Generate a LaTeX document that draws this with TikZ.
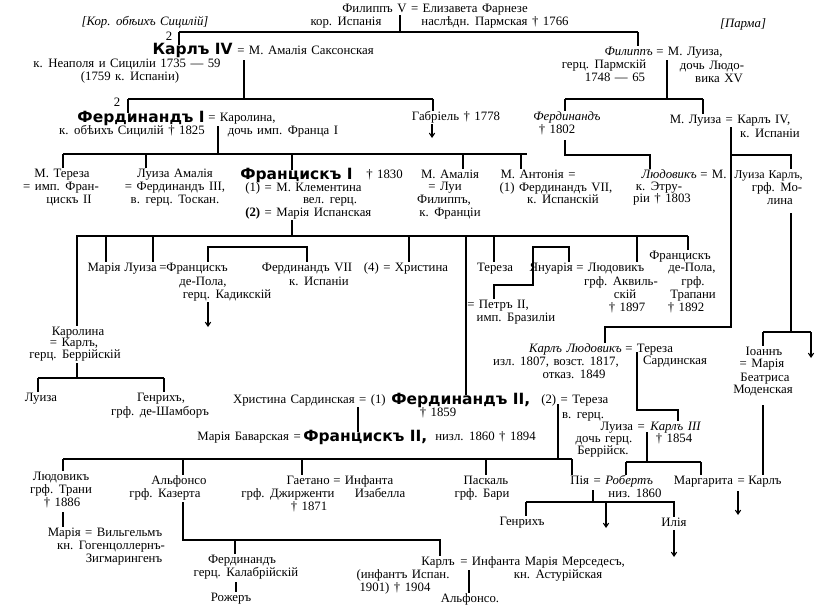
\documentclass[tikz,border=0pt]{standalone}
\usepackage{fontspec}
\setmainfont{Liberation Serif}[WordSpace=1.4]
\newfontfamily\grot{DejaVu Sans}
\usetikzlibrary{arrows.meta}
\tikzset{
  nm/.style={inner sep=0pt, text height=7pt, text depth=2pt, font=\fontsize{9.6}{10}\selectfont},
  sm/.style={nm, font=\fontsize{9}{10}\selectfont},
  it/.style={nm, font=\fontsize{9.6}{10}\selectfont\itshape},
  bf/.style={nm, font=\fontsize{11.6}{12}\selectfont\grot\bfseries},
  ln/.style={line width=0.8pt},
  dn/.style={ln, -{Straight Barb[length=3pt,width=4pt]}},
}
\begin{document}
\begin{tikzpicture}[x=0.75pt,y=-0.75pt]
\useasboundingbox[fill=white] (0,0) rectangle (821,615);
% generation of Philipp V
\node[nm] (phil5) at (435,9) {Филиппъ V = Елизавета Фарнезе};
\node[nm] (kor) at (346,22) {кор. Испанія};
\node[nm] (nasl) at (495,22) {наслѣдн. Пармская † 1766};
\node[it] (sic) at (145,22) {[Кор. обѣихъ Сицилій]};
\node[it] (parma) at (743,24) {[Парма]};
\node[nm] (two1) at (169,37) {2};
\node[bf, anchor=east] (karl4) at (233,51) {Карлъ IV};
\node[nm, anchor=west] (karl4w) at (237,51) {= М. Амалія Саксонская};
\node[nm] (karl4a) at (127,64) {к. Неаполя и Сициліи 1735 — 59};
\node[nm] (karl4b) at (130,77) {(1759 к. Испаніи)};
\node[it, anchor=east] (filp) at (653,52) {Филиппъ};
\node[nm, anchor=west] (filpw) at (656,52) {= М. Луиза,};
\node[nm] (filpa) at (604,65) {герц. Пармскій};
\node[nm] (filpb) at (615,78) {1748 — 65};
\node[nm] (filpwa) at (712,66) {дочь Людо-};
\node[nm] (filpwb) at (719,79) {вика XV};
% Ferdinand I, Gabriel, Parma
\node[nm] (two2) at (117,103) {2};
\node[bf, anchor=east] (fer1) at (205,119) {Фердинандъ I};
\node[nm, anchor=west] (fer1w) at (208,118) {= Каролина,};
\node[nm] (fer1a) at (132,131) {к. обѣихъ Сицилій † 1825};
\node[nm] (fer1wa) at (283,131) {дочь имп. Франца I};
\node[nm] (gab) at (456,117) {Габріель † 1778};
\node[it] (ferp) at (567,117) {Фердинандъ};
\node[nm] (ferpa) at (557,130) {† 1802};
\node[nm] (mlu) at (730,120) {М. Луиза = Карлъ IV,};
\node[nm] (mlua) at (770,134) {к. Испаніи};
% children of Ferdinand I
\node[nm] (mter) at (62,174) {М. Тереза};
\node[nm] (mtera) at (61,187) {= имп. Фран-};
\node[nm] (mterb) at (69,200) {цискъ II};
\node[nm] (lam) at (175,174) {Луиза Амалія};
\node[nm] (lama) at (175,187) {= Фердинандъ III,};
\node[nm] (lamb) at (175,200) {в. герц. Тоскан.};
\node[bf, anchor=west] (fra1) at (240,176) {Францискъ I};
\node[nm, anchor=west] (fra1d) at (366,175) {† 1830};
\node[nm, anchor=west] (fra1a) at (245,188) {(1) = М. Клементина};
\node[nm] (fra1b) at (330,200) {вел. герц.};
\node[nm, anchor=west] (fra1c) at (245,213) {{\bfseries(2)} = Марія Испанская};
\node[nm] (mam) at (450,175) {М. Амалія};
\node[nm] (mama) at (445,187) {= Луи};
\node[nm] (mamb) at (444,200) {Филиппъ,};
\node[nm] (mamc) at (450,213) {к. Франціи};
\node[nm] (mant) at (538,175) {М. Антонія =};
\node[nm] (manta) at (556,188) {(1) Фердинандъ VII,};
\node[nm] (mantb) at (563,200) {к. Испанскій};
\node[it, anchor=east] (ludo) at (697,175) {Людовикъ};
\node[nm, anchor=west] (ludow) at (700,175) {= М.};
\node[sm, anchor=west] (ludowl) at (734,175) {Луиза};
\node[sm, anchor=east] (karlm) at (803,175) {Карлъ,};
\node[nm] (ludoa) at (659,187) {к. Этру-};
\node[nm] (ludob) at (662,199) {ріи † 1803};
\node[nm] (karlma) at (777,188) {грф. Мо-};
\node[nm] (karlmb) at (780,201) {лина};
% children of Franciscus I
\node[nm] (maria1) at (104,268) {Марія};
\node[nm, anchor=east] (luiza1) at (157,268) {Луиза};
\node[nm, anchor=west] (fdp1) at (159,268) {=Францискъ};
\node[nm] (fdp1a) at (203,282) {де-Пола,};
\node[nm] (fdp1b) at (227,295) {герц. Кадикскій};
\node[nm] (fer7) at (307,268) {Фердинандъ VII};
\node[nm] (fer7a) at (319,282) {к. Испаніи};
\node[nm] (chr) at (406,268) {(4) = Христина};
\node[nm] (ter) at (495,268) {Тереза};
\node[nm, anchor=east] (jan) at (573,268) {Януарія};
\node[nm, anchor=west] (ludak) at (576,268) {= Людовикъ};
\node[nm] (ludaka) at (621,282) {грф. Аквиль-};
\node[nm] (ludakb) at (625,295) {скій};
\node[nm] (ludakc) at (627,308) {† 1897};
\node[nm] (fdp2) at (680,256) {Францискъ};
\node[nm] (fdp2a) at (692,268) {де-Пола,};
\node[nm] (fdp2b) at (693,282) {грф.};
\node[nm] (fdp2c) at (693,295) {Трапани};
\node[nm] (fdp2d) at (686,308) {† 1892};
\node[nm, anchor=west] (petr) at (467,305) {= Петръ II,};
\node[nm] (petra) at (516,318) {имп. Бразиліи};
\node[it, anchor=east] (kl) at (622,349) {Карлъ Людовикъ};
\node[nm, anchor=west] (klw) at (625,349) {= Тереза};
\node[nm] (kla) at (556,362) {изл. 1807, возст. 1817,};
\node[nm] (klb) at (574,375) {отказ. 1849};
\node[nm] (klwa) at (675,361) {Сардинская};
\node[nm] (ioann) at (764,352) {Іоаннъ};
\node[nm] (ioanna) at (762,364) {= Марія};
\node[nm] (ioannb) at (765,378) {Беатриса};
\node[nm] (ioannc) at (763,390) {Моденская};
\node[nm] (karol) at (78,332) {Каролина};
\node[nm] (karola) at (74,343) {= Карлъ,};
\node[nm] (karolb) at (75,355) {герц. Беррійскій};
\node[nm] (lu2) at (41,398) {Луиза};
\node[nm] (gen1) at (161,398) {Генрихъ,};
\node[nm] (gen1a) at (160,412) {грф. де-Шамборъ};
% Ferdinand II
\node[nm, anchor=east] (chs) at (386,400) {Христина Сардинская = (1)};
\node[bf, anchor=west] (fer2) at (391,401) {Фердинандъ II,};
\node[nm, anchor=west] (fer2w) at (541,400) {(2) = Тереза};
\node[nm] (fer2a) at (438,413) {† 1859};
\node[nm] (fer2wa) at (583,415) {в. герц.};
\node[nm, anchor=east] (lu3) at (645,427) {Луиза =};
\node[it, anchor=west] (k3) at (650,427) {Карлъ III};
\node[nm] (lu3a) at (604,439) {дочь герц.};
\node[nm] (lu3b) at (603,451) {Беррійск.};
\node[nm] (k3a) at (674,439) {† 1854};
\node[nm, anchor=east] (mbav) at (301,437) {Марія Баварская =};
\node[bf, anchor=west] (fra2) at (303,438) {Францискъ II,};
\node[nm, anchor=west] (fra2a) at (435,437) {низл. 1860 † 1894};
% children of Ferdinand II
\node[nm] (lud2) at (61,477) {Людовикъ};
\node[nm] (lud2a) at (61,490) {грф. Трани};
\node[nm] (lud2b) at (62,503) {† 1886};
\node[nm] (maria2) at (105,533) {Марія = Вильгельмъ};
\node[nm] (maria2a) at (111,546) {кн. Гогенцоллернъ-};
\node[nm] (maria2b) at (124,559) {Зигмарингенъ};
\node[nm] (alf) at (179,481) {Альфонсо};
\node[nm] (alfa) at (165,494) {грф. Казерта};
\node[nm, anchor=east] (gaet) at (330,481) {Гаетано};
\node[nm, anchor=west] (gaetw) at (333,481) {= Инфанта};
\node[nm] (gaeta) at (288,494) {грф. Джирженти};
\node[nm] (gaetwa) at (380,494) {Изабелла};
\node[nm] (gaetb) at (309,507) {† 1871};
\node[nm] (pask) at (486,481) {Паскаль};
\node[nm] (paska) at (482,494) {грф. Бари};
\node[nm, anchor=east] (pia) at (601,481) {Пія =};
\node[it, anchor=west] (rob) at (605,481) {Робертъ};
\node[nm] (roba) at (635,494) {низ. 1860};
\node[nm, anchor=east] (marg) at (745,481) {Маргарита =};
\node[nm, anchor=west] (karlm2) at (748,481) {Карлъ};
\node[nm] (gen2) at (522,522) {Генрихъ};
\node[nm] (ilia) at (674,523) {Илія};
\node[nm] (fer3) at (242,560) {Фердинандъ};
\node[nm] (fer3a) at (246,573) {герц. Калабрійскій};
\node[nm] (roz) at (231,598) {Рожеръ};
\node[nm, anchor=east] (karl5) at (455,562) {Карлъ};
\node[nm, anchor=west] (karl5w) at (460,562) {= Инфанта Марія Мерседесъ,};
\node[nm] (karl5a) at (403,575) {(инфантъ Испан.};
\node[nm] (karl5b) at (395,588) {1901) † 1904};
\node[nm] (karl5wa) at (558,575) {кн. Астурійская};
\node[nm] (alf2) at (470,599) {Альфонсо.};
% junctions
\coordinate (pv) at (400,15);  \coordinate (b0l) at (179,32);  \coordinate (b0r) at (638,32);
\coordinate (k4t) at (244,60); \coordinate (b1l) at (128,99);  \coordinate (b1r) at (433,99);
\coordinate (gaba) at (432,124); \coordinate (gabb) at (432,138);
\coordinate (ft) at (667,60);  \coordinate (b2l) at (565,99);  \coordinate (b2r) at (703,99);
\coordinate (f1t) at (218,126); \coordinate (b3l) at (63,154); \coordinate (b3r) at (527,154);
\coordinate (fpt) at (565,140); \coordinate (b4r) at (650,155);
\coordinate (mlt) at (731,127); \coordinate (b5r) at (791,155);
\coordinate (kll) at (605,327); \coordinate (klr) at (731,327);
\coordinate (kmt) at (791,213); \coordinate (b6l) at (763,332); \coordinate (b6r) at (811,332);
\coordinate (b6a) at (811,358); \coordinate (iot) at (763,405);
\coordinate (fr1t) at (292,220); \coordinate (b7l) at (76,236); \coordinate (b7r) at (688,236);
\coordinate (sbl) at (208,247); \coordinate (sbr) at (307,247);
\coordinate (jl) at (533,247); \coordinate (jr) at (569,247);
\coordinate (jb) at (533,285); \coordinate (pl) at (494,285);
\coordinate (fdpa) at (208,302); \coordinate (fdpb) at (208,327);
\coordinate (kat) at (77,363); \coordinate (b8l) at (38,378); \coordinate (b8r) at (164,378);
\coordinate (f2a) at (358,407); \coordinate (f2b) at (558,404);
\coordinate (b9l) at (63,459); \coordinate (b9r) at (572,459);
\coordinate (klt) at (637,352); \coordinate (b10l) at (635,410); \coordinate (b10r) at (678,410);
\coordinate (k3t) at (647,432); \coordinate (b11l) at (626,462); \coordinate (b11r) at (701,462);
\coordinate (prt) at (593,490); \coordinate (b12l) at (526,502); \coordinate (b12r) at (675,502);
\coordinate (rga) at (606,502); \coordinate (rgb) at (606,528);
\coordinate (ila) at (674,530); \coordinate (ilb) at (674,557);
\coordinate (mka) at (738,491); \coordinate (mkb) at (738,515);
\coordinate (lt) at (63,512);
\coordinate (alt) at (183,502); \coordinate (b13r) at (440,540); \coordinate (b13m) at (235,540);
\coordinate (f3t) at (236,582); \coordinate (k5t) at (469,570);
% connectors
\draw[ln] (pv) -- (pv |- b0l);
\draw[ln] (b0l) -- (b0r);
\draw[ln] (b0l) -- (b0l |- karl4.north);
\draw[ln] (b0r) -- (b0r |- filp.north);
\draw[ln] (k4t) -- (k4t |- b1l);
\draw[ln] (b1l) -- (b1r);
\draw[ln] (b1l) -- (b1l |- fer1.north);
\draw[ln] (b1r) -- (b1r |- gab.north);
\draw[dn] (gaba) -- (gabb);
\draw[ln] (ft) -- (ft |- b2l);
\draw[ln] (b2l) -- (b2r);
\draw[ln] (b2l) -- (b2l |- ferp.north);
\draw[ln] (b2r) -- (b2r |- mlu.north);
\draw[ln] (f1t) -- (f1t |- b3l);
\draw[ln] (b3l) -- (b3r);
\draw[ln] (b3l) -- (b3l |- mter.north);
\draw[ln] (146,154) -- (146,154 |- lam.north);
\draw[ln] (fr1t |- b3l) -- (fr1t |- fra1.north);
\draw[ln] (463,154) -- (463,154 |- mam.north);
\draw[ln] (521,154) -- (521,154 |- mant.north);
\draw[ln] (fpt) |- (b4r) -- (b4r |- ludo.north);
\draw[ln] (mlt) -- (klr) -- (kll) -- (kll |- kl.north);
\draw[ln] (mlt |- b5r) -- (b5r) -- (b5r |- karlm.north);
\draw[ln] (kmt) -- (kmt |- b6r);
\draw[ln] (b6l) -- (b6r);
\draw[ln] (b6l) -- (b6l |- ioann.north);
\draw[dn] (b6r) -- (b6a);
\draw[ln] (iot) -- (iot |- karlm2.north);
\draw[ln] (fr1t) -- (fr1t |- b7l);
\draw[ln] (b7l) -- (b7r);
\draw[ln] (77,236) -- (77,236 |- karol.north);
\draw[ln] (106,236) -- (106,236 |- maria1.north);
\draw[ln] (153,236) -- (153,236 |- luiza1.north);
\draw[ln] (409,236) -- (409,236 |- chr.north);
\draw[ln] (466,236) -- (466,236 |- fer2.north);
\draw[ln] (494,236) -- (494,236 |- ter.north);
\draw[ln] (637,236) -- (637,236 |- ludak.north);
\draw[ln] (b7r) -- (b7r |- fdp2.north);
\draw[ln] (sbl |- fdp1.north) -- (sbl) -- (sbr) -- (sbr |- fer7.north);
\draw[ln] (jr |- jan.north) -- (jr) -- (jl) -- (jb) -- (pl) -- (pl |- petr.north);
\draw[dn] (fdpa) -- (fdpb);
\draw[ln] (kat) -- (kat |- b8l);
\draw[ln] (b8l) -- (b8r);
\draw[ln] (b8l) -- (b8l |- lu2.north);
\draw[ln] (b8r) -- (b8r |- gen1.north);
\draw[ln] (f2a) -- (f2a |- fra2.north);
\draw[ln] (f2b) -- (f2b |- b9l);
\draw[ln] (b9l) -- (b9r);
\draw[ln] (b9l) -- (b9l |- lud2.north);
\draw[ln] (alt |- b9l) -- (alt |- alf.north);
\draw[ln] (302,459) -- (302,459 |- gaet.north);
\draw[ln] (486,459) -- (486,459 |- pask.north);
\draw[ln] (b9r) -- (b9r |- pia.north);
\draw[ln] (klt) -- (klt |- b10l) -- (b10r) -- (b10r |- k3.north);
\draw[ln] (k3t) -- (k3t |- b11l);
\draw[ln] (b11l) -- (b11r);
\draw[ln] (b11l) -- (b11l |- rob.north);
\draw[ln] (b11r) -- (b11r |- marg.north);
\draw[ln] (prt) -- (prt |- b12l);
\draw[ln] (b12l) -- (b12r);
\draw[ln] (b12l) -- (b12l |- gen2.north);
\draw[dn] (rga) -- (rgb);
\draw[ln] (ila |- b12r) -- (ila |- ilia.north);
\draw[dn] (ila) -- (ilb);
\draw[dn] (mka) -- (mkb);
\draw[ln] (lt) -- (lt |- maria2.north);
\draw[ln] (alt) -- (alt |- b13r) -- (b13r) -- (b13r |- karl5.north);
\draw[ln] (b13m) -- (b13m |- fer3.north);
\draw[ln] (f3t) -- (f3t |- roz.north);
\draw[ln] (k5t) -- (k5t |- alf2.north);
\end{tikzpicture}
\end{document}
